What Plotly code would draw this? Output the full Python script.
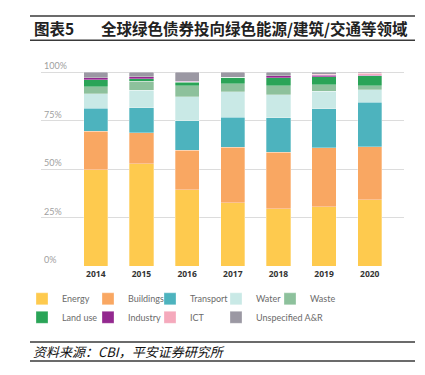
import plotly.graph_objects as go

years = ["2014", "2015", "2016", "2017", "2018", "2019", "2020"]
energy = [49.9, 52.8, 39.5, 32.9, 29.7, 30.7, 34.3]
buildings = [19.7, 16.0, 20.4, 28.5, 29.1, 30.4, 27.4]
transport = [11.9, 13.0, 15.2, 15.5, 17.7, 20.0, 22.9]
water = [7.5, 8.9, 12.3, 13.1, 12.0, 9.1, 6.3]
waste = [3.6, 4.8, 5.7, 4.0, 4.5, 3.5, 2.2]
land_use = [3.6, 1.1, 1.8, 3.4, 4.1, 3.9, 5.2]
industry = [0.9, 1.0, 0.5, 0.0, 1.2, 1.0, 0.3]
ict = [0.0, 0.0, 0.0, 0.0, 0.0, 0.3, 0.8]
unspecified = [2.9, 2.4, 4.6, 2.6, 1.7, 1.1, 0.6]

y_ticks = [0, 25, 50, 75, 100]
y_tick_labels = ["0%", "25%", "50%", "75%", "100%"]

title_left = "图表5"
title_right = "全球绿色债券投向绿色能源/建筑/交通等领域"
source_text = "资料来源：CBI，平安证券研究所"

series_names = ["Energy", "Buildings", "Transport", "Water", "Waste",
                "Land use", "Industry", "ICT", "Unspecified A&R"]
series_values = [energy, buildings, transport, water, waste,
                 land_use, industry, ict, unspecified]
series_colors = ["#FECA4E", "#F9A762", "#4DB3BE", "#C9E9E6", "#8DC19C",
                 "#2AA457", "#93288F", "#F5A9BC", "#9B98A3"]

W, H = 425, 375
L, R = 41, 21
y_lo, y_hi = -0.3, 112
px_per_unit = 1.944
plot_bottom = 267.7 - (0 - y_lo) * px_per_unit
ph = (y_hi - y_lo) * px_per_unit
T = plot_bottom - ph
B = H - plot_bottom
pw = W - L - R


def px_x(x):
    return (x - L) / pw


def px_y(y):
    return (plot_bottom - y) / ph


# legend grid (swatch left x, row centre y) in pixels
legend_cols = [36, 102, 164, 230, 284]
legend_rows = [299, 317.5]

fig = go.Figure()
legend_layout = {}
for i, (name, vals, color) in enumerate(zip(series_names, series_values, series_colors)):
    lg = "legend" if i == 0 else "legend%d" % (i + 1)
    fig.add_trace(go.Bar(
        x=years, y=vals, name=name, legend=lg,
        marker=dict(color=color, line=dict(color="rgba(255,255,255,0.6)", width=0.5)),
        width=0.53,
    ))
    row = 0 if i < 5 else 1
    col = i if i < 5 else i - 5
    legend_layout[lg] = dict(
        orientation="h", x=px_x(legend_cols[col] - 14), xanchor="left",
        y=px_y(legend_rows[row]), yanchor="middle",
        font=dict(family="Lato", size=9, color="#6b6b6b"),
        bgcolor="rgba(0,0,0,0)", borderwidth=0,
    )

fig.update_layout(
    width=W, height=H,
    margin=dict(l=L, r=R, t=T, b=B, pad=0, autoexpand=False),
    barmode="stack",
    plot_bgcolor="white", paper_bgcolor="white",
    xaxis=dict(
        type="category", range=[-1.2, 6.75], showgrid=False, zeroline=False,
        ticks="", showline=False,
        tickfont=dict(family="Open Sans", size=8.5, color="#333333", weight="bold"),
    ),
    yaxis=dict(
        range=[y_lo, y_hi], tickvals=y_ticks, ticktext=y_tick_labels,
        showgrid=True, gridcolor="#DCDCDC", gridwidth=1, zeroline=False,
        ticks="", showline=False, ticklabelposition="inside top",
        tickfont=dict(family="Lato", size=9, color="#A0A0A0"),
    ),
    showlegend=True,
    **legend_layout,
)

line_col = "#3a3a3a"
for yy in [15.7, 40.0, 342.3, 361.3]:
    fig.add_shape(type="line", xref="paper", yref="paper",
                  x0=px_x(30), x1=px_x(415), y0=px_y(yy), y1=px_y(yy),
                  line=dict(color=line_col, width=1.5))

fig.add_annotation(text="<b>" + title_left + "</b>", xref="paper", yref="paper",
                   x=px_x(32), y=px_y(27.5), xanchor="left", yanchor="middle",
                   showarrow=False,
                   font=dict(family="Noto Sans CJK SC", size=15.5, color="#222222"))
fig.add_annotation(text="<b>" + title_right + "</b>", xref="paper", yref="paper",
                   x=px_x(99), y=px_y(27.5), xanchor="left", yanchor="middle",
                   showarrow=False,
                   font=dict(family="Noto Sans CJK SC", size=15.5, color="#222222"))
fig.add_annotation(text="<i>" + source_text + "</i>", xref="paper", yref="paper",
                   x=px_x(31), y=px_y(352), xanchor="left", yanchor="middle",
                   showarrow=False,
                   font=dict(family="Noto Sans CJK SC", size=13, color="#111111"))

fig.write_html("out.html",
               config={"displayModeBar": False},
               post_script="document.body.style.margin='0';document.body.style.padding='0';")
